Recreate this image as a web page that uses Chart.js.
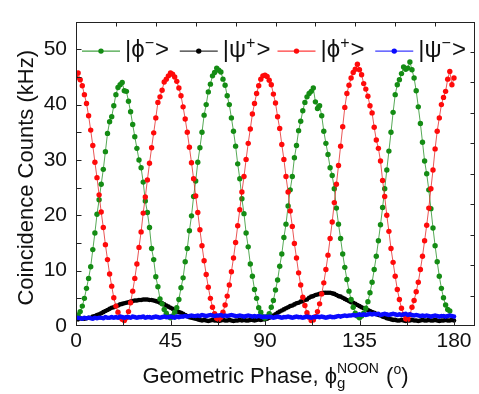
<!DOCTYPE html>
<html>
<head>
<meta charset="utf-8">
<script src="https://cdn.jsdelivr.net/npm/chart.js@4"></script>
<style>
html,body{margin:0;padding:0;background:#fff;}
canvas{display:block;}
</style>
</head>
<body>
<canvas id="chart" width="479" height="394"></canvas>
<script>
// geometric phase (degrees), one sample per degree
let phase = [0,1,2,3,4,5,6,7,8,9,10,11,12,13,14,15,16,17,18,19,20,21,22,23,24,25,26,27,28,29,30,31,32,33,34,35,36,37,38,39,40,41,42,43,44,45,46,47,48,49,50,51,52,53,54,55,56,57,58,59,60,61,62,63,64,65,66,67,68,69,70,71,72,73,74,75,76,77,78,79,80,81,82,83,84,85,86,87,88,89,90,91,92,93,94,95,96,97,98,99,100,101,102,103,104,105,106,107,108,109,110,111,112,113,114,115,116,117,118,119,120,121,122,123,124,125,126,127,128,129,130,131,132,133,134,135,136,137,138,139,140,141,142,143,144,145,146,147,148,149,150,151,152,153,154,155,156,157,158,159,160,161,162,163,164,165,166,167,168,169,170,171,172,173,174,175,176,177,178,179,180];

// coincidence counts (kHz)
let phi_minus = [1.9,2.0,2.6,3.6,5.0,6.8,8.6,10.7,13.8,16.8,20.2,22.8,25.6,28.3,31.5,34.8,36.9,37.8,39.8,41.8,43.1,43.6,44.0,42.5,42.4,40.6,38.7,36.4,34.2,32.1,30.0,28.6,26.0,22.6,20.5,17.8,14.0,12.0,8.9,7.1,4.9,4.0,3.0,2.3,1.7,1.5,
  1.8,2.5,3.3,4.8,6.9,8.7,11.6,14.0,17.2,19.9,23.4,26.2,29.6,32.2,35.0,38.1,40.0,42.3,43.7,45.2,45.8,46.6,46.2,45.9,44.6,43.5,41.6,40.0,37.6,35.2,32.5,29.3,26.6,23.0,20.3,16.8,14.3,11.2,9.0,6.6,5.0,3.3,2.5,1.7,1.4,
  1.7,2.2,3.4,4.6,6.5,8.3,10.8,13.0,16.0,18.4,21.7,24.6,27.0,30.4,32.6,35.3,37.0,38.9,40.4,41.4,42.0,42.4,43.0,40.5,39.3,39.8,38.0,35.2,33.0,31.0,28.6,27.2,24.8,21.3,18.4,15.8,13.0,10.6,8.4,6.3,4.8,3.4,2.3,1.8,1.5,
  1.8,2.3,3.2,4.4,6.0,7.9,10.2,12.6,15.4,18.3,21.4,24.8,28.2,31.6,35.0,38.6,41.8,43.6,44.5,45.6,46.8,46.4,46.6,47.7,46.3,44.8,42.5,39.6,36.6,33.2,29.8,27.5,24.6,21.2,17.7,14.5,11.6,9.0,6.8,5.1,3.8,3.0,2.7];

let psi_plus = [1.3,1.2,1.4,1.3,1.3,1.4,1.5,1.5,1.7,
  1.8,2.0,2.1,2.3,2.5,2.7,2.9,3.1,3.3,3.4,3.6,3.7,3.9,4.0,4.1,4.2,4.3,4.4,4.5,4.6,4.6,4.7,4.7,4.8,4.8,4.8,4.7,4.7,4.6,4.5,4.4,4.2,4.1,3.9,3.7,3.5,3.3,3.1,2.9,2.7,2.5,2.4,2.2,2.0,1.8,1.6,1.5,1.4,1.3,1.2,1.1,
  1.0,1.1,1.0,0.9,1.0,1.1,1.0,1.0,0.9,1.0,1.1,1.0,1.0,1.1,1.0,0.9,1.0,1.0,1.1,1.0,1.1,1.0,1.0,1.1,1.1,1.0,1.1,1.2,1.1,1.2,
  1.2,1.3,1.5,1.7,1.9,2.1,2.4,2.6,2.8,3.0,3.2,3.4,3.6,3.7,3.9,4.1,4.2,4.4,4.5,4.7,4.8,5.1,5.3,5.4,5.6,5.7,5.8,5.9,6.0,6.0,6.0,6.0,5.9,5.8,5.6,5.4,5.3,5.1,4.9,4.7,4.5,4.3,4.2,4.0,3.8,3.6,3.4,3.2,3.1,2.9,2.7,2.5,2.4,2.2,2.0,1.9,1.7,1.6,1.4,1.3,1.2,
  1.1,1.1,1.0,1.0,1.1,1.0,0.9,1.0,1.0,1.1,1.0,1.0,0.9,1.0,1.1,1.0,1.0,1.1,1.0,1.0,1.1,1.0,0.9,1.0,1.0,1.1,1.0,1.0,1.1,1.0];

let phi_plus = [44.9,45.7,44.5,43.4,41.8,40.2,38.0,35.4,32.6,29.6,26.8,23.7,20.6,17.8,14.7,12.0,9.4,7.2,5.1,3.6,2.5,1.6,1.2,
  1.0,1.5,2.6,4.2,6.3,8.6,11.2,14.2,17.0,20.4,23.3,26.4,29.4,32.2,34.9,37.6,40.4,41.4,42.6,44.1,44.6,45.2,45.7,
  45.5,45.0,44.2,43.0,41.6,39.6,37.4,35.0,32.3,29.5,26.6,23.5,20.5,17.4,14.5,11.8,9.3,7.0,5.0,3.4,2.2,1.4,
  1.2,1.6,2.5,3.8,5.4,7.4,9.8,12.3,15.1,18.1,21.0,24.2,27.0,30.1,33.0,35.6,38.3,40.2,42.0,43.4,44.6,45.2,45.3,
  45.1,44.4,43.6,41.9,40.3,37.8,35.7,32.8,30.1,27.0,24.2,20.8,18.0,14.9,12.3,9.6,7.4,5.2,3.7,2.4,1.6,1.0,
  1.1,1.7,2.6,4.0,5.8,7.8,10.2,12.8,15.8,18.8,22.3,25.6,29.0,32.5,36.0,39.5,42.0,43.5,44.8,45.8,46.4,47.3,46.3,
  45.4,43.8,42.8,41.5,39.8,38.5,35.9,33.6,32.1,29.8,26.3,23.4,20.0,17.1,14.0,11.5,9.0,6.6,4.8,3.2,2.1,1.3,
  1.2,2.0,3.4,4.6,6.2,7.9,10.2,12.6,15.4,18.2,21.3,24.8,28.2,32.0,35.2,37.6,40.0,41.3,42.4,44.6,46.0,43.6,44.8];

let psi_minus = [1.4,1.5,1.4,1.3,1.5,1.4,1.5,1.4,1.3,1.5,1.4,1.5,1.5,1.4,1.6,1.5,
  1.5,1.6,1.5,1.6,1.5,1.7,1.6,1.5,1.6,1.6,1.5,1.7,1.6,1.5,1.6,1.6,1.7,1.5,1.6,1.6,1.5,1.6,1.7,1.6,1.5,1.6,1.7,1.6,1.6,1.7,1.6,1.5,1.7,1.6,1.7,
  1.7,1.8,1.7,1.8,1.9,1.8,1.8,1.9,1.8,2.0,1.9,1.8,1.9,2.0,1.9,1.8,1.9,1.9,2.0,1.8,1.9,1.8,1.9,2.0,1.9,1.8,1.8,1.9,1.8,1.7,1.8,1.9,1.8,1.7,1.8,1.7,1.8,1.7,1.6,1.7,
  1.6,1.7,1.6,1.5,1.6,1.7,1.6,1.5,1.6,1.6,1.7,1.6,1.5,1.6,1.7,1.6,1.6,1.5,1.6,1.7,1.6,1.5,1.6,1.6,1.7,1.6,1.7,1.6,1.5,1.6,1.7,1.6,1.6,1.7,1.8,1.7,1.8,1.9,1.8,1.9,1.9,2.0,1.9,2.0,2.1,2.0,2.1,2.0,2.1,2.2,
  2.1,2.2,2.1,2.2,2.0,2.1,2.2,2.1,2.0,2.1,2.2,2.1,2.0,2.1,2.0,2.1,2.2,2.0,2.1,2.0,1.9,2.0,1.9,1.8,1.9,1.8,1.9,1.8,1.7,1.8,1.9,1.8,1.7,1.8,1.8,1.7,1.8,1.9,1.8,1.7];

let x_ticks_major = [0, 45, 90, 135, 180];
let y_ticks_major = [0, 10, 20, 30, 40, 50];

// legend: ket base + superscript sign, same order as the reference
let legend_names = [["|\u03D5", "\u2212"], ["|\u03C8", "+"], ["|\u03D5", "+"], ["|\u03C8", "\u2212"]];

let font_family = '"Liberation Sans", Arial, sans-serif';
let text_color = '#111';

function points(values) {
    return values.map((v, i) => ({x: phase[i], y: v}));
}

// green, black, red, blue  (legend order)
let series = [
    {data: phi_minus, color: '#148c14', line: 'rgba(30,140,30,0.75)', radius: 2.7, width: 1, order: 2},
    {data: psi_plus, color: '#000000', line: '#000000', radius: 2.3, width: 2, order: 3},
    {data: phi_plus, color: '#ff0a0a', line: 'rgba(225,30,30,0.75)', radius: 2.7, width: 1, order: 1},
    {data: psi_minus, color: '#0a0aff', line: '#0a0aff', radius: 2.3, width: 2, order: 0},
];

let frameTicks = {
    id: 'frameTicks',
    afterDatasetsDraw(chart) {
        const {ctx, chartArea: a, scales} = chart;
        const L = Math.round(a.left) + 0.5, R = Math.round(a.right) - 0.5;
        const T = Math.round(a.top) + 0.5, B = Math.round(a.bottom) - 0.5;
        ctx.save();
        ctx.strokeStyle = '#222';
        ctx.lineWidth = 1;
        ctx.strokeRect(L, T, R - L, B - T);
        ctx.beginPath();
        scales.x.ticks.forEach(t => {
            if (t.value % 22.5 !== 0 || t.value <= 0 || t.value > 180) return;
            const px = Math.round(scales.x.getPixelForValue(t.value)) + 0.5;
            ctx.moveTo(px, B); ctx.lineTo(px, B - 5);
        });
        scales.y.ticks.forEach(t => {
            if (t.value <= 0 || t.value >= 55) return;
            const py = Math.round(scales.y.getPixelForValue(t.value)) + 0.5;
            ctx.moveTo(L, py); ctx.lineTo(L + 5, py);
        });
        scales.x2.ticks.forEach(t => {
            if (t.value <= 0 || t.value >= 10) return;
            const px = Math.round(scales.x2.getPixelForValue(t.value)) + 0.5;
            ctx.moveTo(px, T); ctx.lineTo(px, T + 4);
        });
        scales.y2.ticks.forEach(t => {
            if (t.value <= 0 || t.value >= 10) return;
            const py = Math.round(scales.y2.getPixelForValue(t.value)) + 0.5;
            ctx.moveTo(R, py); ctx.lineTo(R - 4, py);
        });
        ctx.stroke();
        ctx.restore();
    },
    afterDraw(chart) {
        const {ctx, chartArea: a} = chart;
        ctx.save();
        ctx.fillStyle = text_color;

        // legend
        const ly = a.top + 29;
        const pitch = (a.right - a.left - 8) / 4;
        legend_names.forEach((nm, i) => {
            const s = series[i];
            let x = a.left + 6 + i * pitch;
            ctx.strokeStyle = s.color;
            ctx.lineWidth = 1;
            ctx.beginPath();
            ctx.moveTo(x, ly + 0.5); ctx.lineTo(x + 38, ly + 0.5);
            ctx.stroke();
            ctx.fillStyle = s.color;
            ctx.beginPath();
            ctx.arc(x + 19, ly + 0.5, 2.7, 0, Math.PI * 2);
            ctx.fill();
            x += 43;
            ctx.fillStyle = text_color;
            ctx.textBaseline = 'middle';
            ctx.textAlign = 'left';
            ctx.font = '24px ' + font_family;
            ctx.fillText(nm[0], x, ly);
            x += ctx.measureText(nm[0]).width;
            ctx.font = '16px ' + font_family;
            ctx.fillText(nm[1], x, ly - 7);
            x += ctx.measureText(nm[1]).width + 1;
            ctx.font = '24px ' + font_family;
            ctx.fillText('>', x, ly);
        });

        // x title: Geometric Phase, phi_g^NOON (o)
        const big = '22px ' + font_family, small = '14px ' + font_family;
        ctx.textBaseline = 'alphabetic';
        ctx.font = big;
        const t1 = 'Geometric Phase, \u03D5';
        const w1 = ctx.measureText(t1).width;
        const wOpen = ctx.measureText(' (').width, wClose = ctx.measureText(')').width;
        ctx.font = '15px ' + font_family;
        const wSub = ctx.measureText('g').width;
        ctx.font = small;
        const wSup = ctx.measureText('NOON').width, wDeg = ctx.measureText('o').width;
        const total = w1 + Math.max(wSub, wSup) + 1 + wOpen + wDeg + wClose;
        let x = (a.left + a.right) / 2 - total / 2;
        const by = 383;
        ctx.font = big;
        ctx.fillText(t1, x, by);
        x += w1;
        ctx.font = '15px ' + font_family;
        ctx.fillText('g', x, by + 5);
        ctx.font = small;
        ctx.fillText('NOON', x, by - 10);
        x += Math.max(wSub, wSup) + 1;
        ctx.font = big;
        ctx.fillText(' (', x, by);
        x += wOpen;
        ctx.font = small;
        ctx.fillText('o', x, by - 9);
        x += wDeg;
        ctx.font = big;
        ctx.fillText(')', x, by);

        // y title
        ctx.translate(27, (a.top + a.bottom) / 2 + 4);
        ctx.rotate(-Math.PI / 2);
        ctx.textAlign = 'center';
        ctx.textBaseline = 'middle';
        ctx.font = big;
        ctx.fillText('Coincidence Counts (kHz)', 0, 0);
        ctx.restore();
    }
};

new Chart(document.getElementById('chart'), {
    type: 'line',
    data: {
        datasets: series.map(s => ({
            data: points(s.data),
            borderColor: s.line,
            borderWidth: s.width,
            backgroundColor: s.color,
            pointBackgroundColor: s.color,
            pointBorderColor: s.color,
            pointBorderWidth: 0,
            pointRadius: s.radius,
            tension: 0,
            fill: false,
            order: s.order,
        })),
    },
    options: {
        responsive: false,
        animation: false,
        events: [],
        layout: {padding: 0},
        plugins: {legend: {display: false}, tooltip: {enabled: false}},
        scales: {
            x: {
                type: 'linear', position: 'bottom', min: 0, max: 190,
                afterFit: s => { s.height = 68; },
                grid: {display: false, drawTicks: false},
                border: {display: false},
                ticks: {
                    stepSize: 22.5, includeBounds: false, autoSkip: false, maxRotation: 0,
                    padding: 3, color: text_color, font: {size: 21, family: font_family},
                    callback: v => x_ticks_major.includes(v) ? String(v) : '',
                },
            },
            y: {
                type: 'linear', position: 'left', min: 0, max: 55,
                afterFit: s => { s.width = 76; },
                grid: {display: false, drawTicks: false},
                border: {display: false},
                ticks: {
                    stepSize: 5, autoSkip: false, padding: 9, color: text_color,
                    font: {size: 21, family: font_family},
                    callback: v => y_ticks_major.includes(v) ? String(v) : '',
                },
            },
            x2: {
                type: 'linear', position: 'top', min: 0, max: 10,
                afterFit: s => { s.height = 4; },
                grid: {display: false, drawTicks: false},
                border: {display: false},
                ticks: {stepSize: 1, display: false},
            },
            y2: {
                type: 'linear', position: 'right', min: 0, max: 10,
                afterFit: s => { s.width = 4; },
                grid: {display: false, drawTicks: false},
                border: {display: false},
                ticks: {stepSize: 1, display: false},
            },
        },
    },
    plugins: [frameTicks],
});
</script>
</body>
</html>
